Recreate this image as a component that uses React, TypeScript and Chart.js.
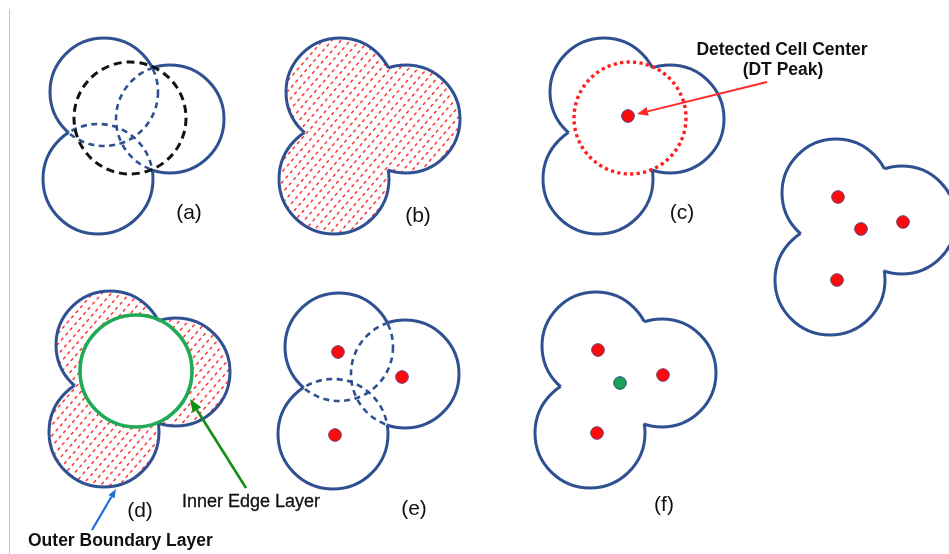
import React, { useEffect, useRef } from 'react';
import { Chart, registerables } from 'chart.js';

Chart.register(...registerables);

// ---- Data (diagram units; y grows downward) ----
// three overlapping cells, panel-local coordinates
const cellCenterX = [104, 170, 98];
const cellCenterY = [92, 119, 179];
const cellRadius = [54, 54, 55];

// single inscribed circle around the distance-transform peak, panel-local
const innerCenterX = [130];
const innerCenterY = [118];
const innerRadius = [56];

// detected DT peak in panel (c)
const dtPeakX = [628];
const dtPeakY = [116];

// seed points (red) in the right panel, (e) and (f)
const seedX = [838, 903, 837, 338, 402, 335, 598, 663, 597];
const seedY = [197, 222, 280, 352, 377, 435, 350, 375, 433];

// merged (red) centre in the right panel
const mergedX = [861];
const mergedY = [229];

// centroid (green) in panel (f)
const centroidX = [620];
const centroidY = [383];

// panel labels
const panelLabels = ['(a)', '(b)', '(c)', '', '(d)', '(e)', '(f)'];

// ---- Layout (not data) ----
const PANELS = [
  { dx: 0, dy: 0, lx: 189, ly: 213, mode: 'a' },
  { dx: 236, dy: 0, lx: 418, ly: 216, mode: 'b' },
  { dx: 500, dy: 0, lx: 682, ly: 213, mode: 'c' },
  { dx: 732, dy: 101, lx: 0, ly: 0, mode: 'plain' },
  { dx: 6, dy: 253, lx: 140, ly: 511, mode: 'd' },
  { dx: 235, dy: 255, lx: 414, ly: 509, mode: 'e' },
  { dx: 492, dy: 254, lx: 664, ly: 505, mode: 'plain' },
];

const BLUE = '#2f5192';
const RED = '#ff1e1e';

type Circ = { x: number; y: number; r: number };

function arcPath(ctx: CanvasRenderingContext2D, c: Circ) {
  ctx.moveTo(c.x + c.r, c.y);
  ctx.arc(c.x, c.y, c.r, 0, Math.PI * 2);
}

function drawArrow(ctx: CanvasRenderingContext2D, x1: number, y1: number, x2: number, y2: number, color: string, w: number, hl: number, hw: number) {
  const a = Math.atan2(y2 - y1, x2 - x1);
  const bx = x2 - Math.cos(a) * hl;
  const by = y2 - Math.sin(a) * hl;
  ctx.save();
  ctx.setLineDash([]);
  ctx.strokeStyle = color;
  ctx.fillStyle = color;
  ctx.lineWidth = w;
  ctx.beginPath();
  ctx.moveTo(x1, y1);
  ctx.lineTo(bx, by);
  ctx.stroke();
  ctx.beginPath();
  ctx.moveTo(x2, y2);
  ctx.lineTo(bx + Math.sin(a) * hw, by - Math.cos(a) * hw);
  ctx.lineTo(bx - Math.sin(a) * hw, by + Math.cos(a) * hw);
  ctx.closePath();
  ctx.fill();
  ctx.restore();
}

function hatch(ctx: CanvasRenderingContext2D, circles: Circ[]) {
  const x0 = Math.min(...circles.map((c) => c.x - c.r)) - 5;
  const x1 = Math.max(...circles.map((c) => c.x + c.r)) + 5;
  const y0 = Math.min(...circles.map((c) => c.y - c.r)) - 5;
  const y1 = Math.max(...circles.map((c) => c.y + c.r)) + 5;
  const slope = 1.15;
  const h = y1 - y0;
  ctx.save();
  ctx.strokeStyle = 'rgba(255,30,30,0.9)';
  ctx.lineWidth = 1.5;
  ctx.lineCap = 'round';
  ctx.setLineDash([2.2, 4.6]);
  let k = 0;
  for (let s = x0 - h / slope; s < x1; s += 9.2) {
    ctx.lineDashOffset = (k * 2.3) % 6.8;
    k++;
    ctx.beginPath();
    ctx.moveTo(s, y1);
    ctx.lineTo(s + h / slope, y0);
    ctx.stroke();
  }
  ctx.restore();
}

function clipUnion(ctx: CanvasRenderingContext2D, circles: Circ[]) {
  ctx.beginPath();
  circles.forEach((c) => arcPath(ctx, c));
  ctx.clip();
}

function drawOutline(ctx: CanvasRenderingContext2D, circles: Circ[], W: number, H: number, dashedHidden: boolean) {
  circles.forEach((c, i) => {
    ctx.save();
    circles.forEach((o, j) => {
      if (j === i) return;
      ctx.beginPath();
      ctx.rect(0, 0, W, H);
      arcPath(ctx, o);
      ctx.clip('evenodd');
    });
    ctx.beginPath();
    ctx.arc(c.x, c.y, c.r, 0, Math.PI * 2);
    ctx.strokeStyle = BLUE;
    ctx.lineWidth = 3;
    ctx.setLineDash([]);
    ctx.stroke();
    ctx.restore();
    if (dashedHidden) {
      ctx.save();
      clipUnion(ctx, circles.filter((_, j) => j !== i));
      ctx.beginPath();
      ctx.arc(c.x, c.y, c.r, 0, Math.PI * 2);
      ctx.strokeStyle = BLUE;
      ctx.lineWidth = 2.6;
      ctx.setLineDash([6, 4.5]);
      ctx.stroke();
      ctx.restore();
    }
  });
}

const diagramPlugin = {
  id: 'cellDiagram',
  beforeDatasetsDraw(chart: any) {
    const ctx: CanvasRenderingContext2D = chart.ctx;
    const xs = chart.scales.x;
    const ys = chart.scales.y;
    const W = chart.width;
    const H = chart.height;
    const px = (v: number) => xs.getPixelForValue(v);
    const py = (v: number) => ys.getPixelForValue(v);
    const pr = (r: number) => Math.abs(xs.getPixelForValue(r) - xs.getPixelForValue(0));

    PANELS.forEach((p) => {
      const circles: Circ[] = cellCenterX.map((cx, i) => ({
        x: px(cx + p.dx),
        y: py(cellCenterY[i] + p.dy),
        r: pr(cellRadius[i]),
      }));
      const inner: Circ = {
        x: px(innerCenterX[0] + p.dx),
        y: py(innerCenterY[0] + p.dy),
        r: pr(innerRadius[0]),
      };

      if (p.mode === 'b') {
        ctx.save();
        clipUnion(ctx, circles);
        hatch(ctx, circles);
        ctx.restore();
      }
      if (p.mode === 'd') {
        ctx.save();
        clipUnion(ctx, circles);
        ctx.beginPath();
        ctx.rect(0, 0, W, H);
        arcPath(ctx, inner);
        ctx.clip('evenodd');
        hatch(ctx, circles);
        ctx.restore();
      }

      drawOutline(ctx, circles, W, H, p.mode === 'a' || p.mode === 'e');

      ctx.save();
      if (p.mode === 'a') {
        ctx.beginPath();
        ctx.arc(inner.x, inner.y, inner.r, 0, Math.PI * 2);
        ctx.strokeStyle = '#111111';
        ctx.lineWidth = 3;
        ctx.setLineDash([8, 5]);
        ctx.stroke();
      } else if (p.mode === 'c') {
        ctx.beginPath();
        ctx.arc(inner.x, inner.y, inner.r, 0, Math.PI * 2);
        ctx.strokeStyle = RED;
        ctx.lineWidth = 3.4;
        ctx.setLineDash([3.2, 3.3]);
        ctx.stroke();
      } else if (p.mode === 'd') {
        ctx.beginPath();
        ctx.arc(inner.x, inner.y, inner.r, 0, Math.PI * 2);
        ctx.strokeStyle = '#1faa55';
        ctx.lineWidth = 3.6;
        ctx.setLineDash([]);
        ctx.stroke();
      }
      ctx.restore();
    });
  },
  afterDatasetsDraw(chart: any) {
    const ctx: CanvasRenderingContext2D = chart.ctx;
    const xs = chart.scales.x;
    const ys = chart.scales.y;
    const px = (v: number) => xs.getPixelForValue(v);
    const py = (v: number) => ys.getPixelForValue(v);

    // arrows
    drawArrow(ctx, px(767), py(82), px(dtPeakX[0] + 9), py(dtPeakY[0] - 2), '#ff2a2a', 2, 11, 4.5);
    drawArrow(ctx, px(246), py(488), px(190), py(399), '#139013', 2.6, 13, 5);
    drawArrow(ctx, px(92), py(530), px(116), py(489), '#1f6fd6', 2.2, 9, 3.5);

    ctx.save();
    ctx.fillStyle = '#111111';
    ctx.strokeStyle = '#111111';
    // panel labels
    ctx.font = '21px "Liberation Sans", Arial, sans-serif';
    ctx.textAlign = 'center';
    ctx.textBaseline = 'middle';
    PANELS.forEach((p, i) => {
      if (panelLabels[i]) ctx.fillText(panelLabels[i], px(p.lx), py(p.ly));
    });
    ctx.textBaseline = 'alphabetic';
    ctx.font = 'bold 17.5px "Liberation Sans", Arial, sans-serif';
    ctx.fillText('Detected Cell Center', px(782), py(55));
    ctx.fillText('(DT Peak)', px(783), py(75));
    ctx.textAlign = 'left';
    ctx.font = '18px "Liberation Sans", Arial, sans-serif';
    ctx.lineWidth = 0.3;
    ctx.fillText('Inner Edge Layer', px(182), py(507));
    ctx.strokeText('Inner Edge Layer', px(182), py(507));
    ctx.font = 'bold 17.5px "Liberation Sans", Arial, sans-serif';
    ctx.fillText('Outer Boundary Layer', px(28), py(546));
    ctx.restore();
  },
};

const toPts = (xs: number[], ys: number[]) => xs.map((x, i) => ({ x, y: ys[i] }));

export default function App() {
  const ref = useRef<HTMLCanvasElement | null>(null);
  useEffect(() => {
    if (!ref.current) return;
    const dot = {
      pointRadius: 6.3,
      pointHoverRadius: 6.3,
      borderWidth: 1,
      showLine: false,
    };
    const chart = new Chart(ref.current, {
      type: 'scatter',
      data: {
        datasets: [
          { ...dot, label: 'DT peak', data: toPts(dtPeakX, dtPeakY), backgroundColor: '#ff0a0a', borderColor: '#4a3a80' },
          { ...dot, label: 'Seeds', data: toPts(seedX, seedY), backgroundColor: '#ff0a0a', borderColor: '#6a3a70' },
          { ...dot, label: 'Merged', data: toPts(mergedX, mergedY), backgroundColor: '#ff0a0a', borderColor: '#4a3a80' },
          { ...dot, label: 'Centroid', data: toPts(centroidX, centroidY), backgroundColor: '#19a052', borderColor: '#2a4a80' },
        ],
      },
      options: {
        animation: false,
        responsive: false,
        maintainAspectRatio: false,
        events: [],
        layout: { padding: 0, autoPadding: false },
        plugins: {
          legend: { display: false },
          tooltip: { enabled: false },
          title: { display: false },
        },
        scales: {
          x: { type: 'linear', min: 0, max: 949, display: false },
          y: { type: 'linear', min: 0, max: 554, reverse: true, display: false },
        },
      },
      plugins: [diagramPlugin],
    } as any);
    return () => chart.destroy();
  }, []);

  return (
    <div style={{ position: 'absolute', left: 0, top: 0, width: 949, height: 554, background: '#ffffff' }}>
      <div style={{ position: 'absolute', left: 9, top: 9, width: 0, height: 545, borderLeft: '1.5px solid #c4c4c4' }} />
      <canvas ref={ref} width={949} height={554} style={{ position: 'absolute', left: 0, top: 0, display: 'block' }} />
    </div>
  );
}
